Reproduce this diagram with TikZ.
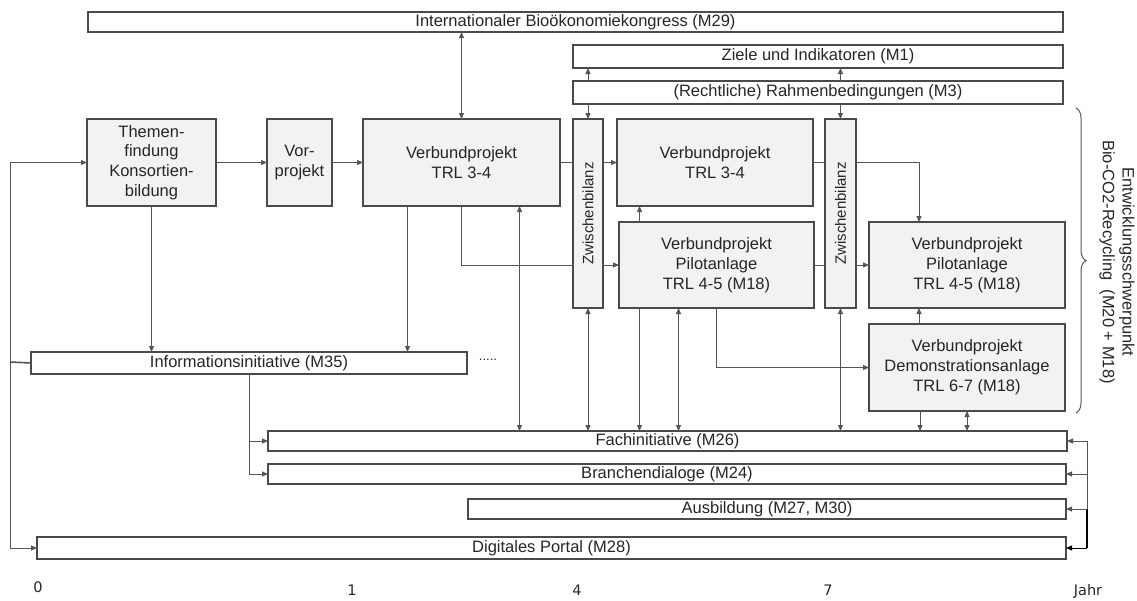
\documentclass[tikz,border=0pt]{standalone}
\usepackage{fontspec}
\setmainfont{Liberation Sans}
\newfontfamily\axisfont{DejaVu Sans}
\usetikzlibrary{arrows.meta,decorations.pathreplacing}
\definecolor{boxfill}{HTML}{F2F2F2}
\definecolor{boxline}{HTML}{4A4A4A}
\definecolor{conn}{HTML}{555555}
\definecolor{txt}{HTML}{262626}
\begin{document}
\begin{tikzpicture}[x=1pt,y=-1pt,
  every node/.style={inner sep=0pt, outer sep=0pt, text=txt, font=\fontsize{16.5}{19.8}\selectfont},
  gbox/.style={draw=boxline, fill=boxfill, line width=1.2pt, align=center},
  bar/.style={draw=boxline, fill=white, line width=1.2pt},
  conline/.style={draw=conn, line width=1pt},
  arr/.style={conline, -{Triangle[length=6pt,width=5pt]}},
  darr/.style={conline, {Triangle[length=6pt,width=5pt]}-{Triangle[length=6pt,width=5pt]}},
  axislbl/.style={font=\axisfont\fontsize{14.5}{17}\selectfont, anchor=base},
  zwlabel/.style={label={[rotate=90, font=\fontsize{15}{18}\selectfont]center:Zwischenbilanz}}
]
\useasboundingbox (0,0) rectangle (1137,600);

% bars
\node[bar, minimum width=975pt, minimum height=20pt] (m29) at (575.5,22) {Internationaler Bioökonomiekongress (M29)};
\node[bar, minimum width=490pt, minimum height=23pt] (m1) at (818,56.5) {Ziele und Indikatoren (M1)};
\node[bar, minimum width=490pt, minimum height=23pt] (m3) at (818,92.5) {(Rechtliche) Rahmenbedingungen (M3)};
\node[bar, minimum width=436pt, minimum height=22pt] (info) at (249,363) {Informationsinitiative (M35)};
\node[bar, minimum width=799pt, minimum height=20pt] (fach) at (667.5,441) {Fachinitiative (M26)};
\node[bar, minimum width=798pt, minimum height=20pt] (branch) at (667,474) {Branchendialoge (M24)};
\node[bar, minimum width=598pt, minimum height=20pt] (ausb) at (767,509) {Ausbildung (M27, M30)};
\node[bar, minimum width=1029pt, minimum height=22pt] (digi) at (551.5,548) {Digitales Portal (M28)};
\node[font=\fontsize{13}{15}\selectfont, anchor=base] (dots) at (488,360) {.....};

% grey boxes
\node[gbox, minimum width=129pt, minimum height=87pt] (themen) at (151.5,162.5) {Themen-\\findung\\Konsortien-\\bildung};
\node[gbox, minimum width=65pt, minimum height=87pt] (vor) at (299.5,162.5) {Vor-\\projekt};
\node[gbox, minimum width=197pt, minimum height=87pt] (v1) at (461.5,162.5) {Verbundprojekt\\TRL 3-4};
\node[gbox, minimum width=30pt, minimum height=189pt, zwlabel] (zw1) at (588,213.5) {};
\node[gbox, minimum width=196pt, minimum height=87pt] (v2) at (715,162.5) {Verbundprojekt\\TRL 3-4};
\node[gbox, minimum width=195pt, minimum height=86pt] (p1) at (716.5,265) {Verbundprojekt\\Pilotanlage\\TRL 4-5 (M18)};
\node[gbox, minimum width=31pt, minimum height=189pt, zwlabel] (zw2) at (840.5,213.5) {};
\node[gbox, minimum width=196pt, minimum height=86pt] (p2) at (967,265) {Verbundprojekt\\Pilotanlage\\TRL 4-5 (M18)};
\node[gbox, minimum width=196pt, minimum height=87pt] (demo) at (967,367.5) {Verbundprojekt\\Demonstrationsanlage\\TRL 6-7 (M18)};

% brace and label
\coordinate (bracetop) at (1076,108);
\coordinate (bracebot) at (1076,413);
\draw[draw=conn, line width=1pt, decorate, decoration={brace, amplitude=10pt}] (bracetop) -- (bracebot);
\node[rotate=-90, align=center] (focus) at (1117,262) {Entwicklungsschwerpunkt\\Bio-CO2-Recycling~~(M20 + M18)};

% top connections
\draw[darr] (m29.south -| v1.north) -- (v1.north);
\draw[arr] (zw1.north |- m3.north) -- (zw1.north |- m1.south);
\draw[arr] (zw2.north |- m3.north) -- (zw2.north |- m1.south);
\draw[arr] (zw1.north |- m3.south) -- (zw1.north);
\draw[arr] (zw2.north |- m3.south) -- (zw2.north);

% main flow
\draw[arr] (themen.east) -- (vor.west);
\draw[arr] (vor.east) -- (v1.west);
\draw[conline] (v1.east) -- (zw1.west |- v1.east);
\draw[arr] (zw1.east |- v2.west) -- (v2.west);
\draw[conline] (v1.south) |- (zw1.west |- p1.west);
\draw[arr] (zw1.east |- p1.west) -- (p1.west);
\draw[conline] (v2.east) -- (zw2.west |- v2.east);
\draw[arr] (zw2.east |- v2.east) -| ([xshift=-48pt]p2.north);
\draw[conline] (p1.east) -- (zw2.west |- p1.east);
\draw[arr] (zw2.east |- p2.west) -- (p2.west);
\draw[arr] ([xshift=-77pt]p1.north) -- ([xshift=-77pt]p1.north |- v2.south);
\draw[arr] ([xshift=-48pt]demo.north) -- ([xshift=-48pt]demo.north |- p2.south);
\draw[arr] (p1.south) |- (demo.west);

% down to information initiative
\draw[arr] (themen.south) -- (themen.south |- info.north);
\draw[arr] ([xshift=-54pt]v1.south) -- ([xshift=-54pt]v1.south |- info.north);

% down to Fachinitiative
\draw[darr] ([xshift=58pt]v1.south) -- ([xshift=58pt]v1.south |- fach.north);
\draw[darr] (zw1.south) -- (zw1.south |- fach.north);
\draw[arr] ([xshift=-77pt]p1.south) -- ([xshift=-77pt]p1.south |- fach.north);
\draw[darr] ([xshift=-38pt]p1.south) -- ([xshift=-38pt]p1.south |- fach.north);
\draw[darr] (zw2.south) -- (zw2.south |- fach.north);
\draw[arr] ([xshift=-47pt]demo.south) -- ([xshift=-47pt]demo.south |- fach.north);
\draw[darr] (demo.south) -- (demo.south |- fach.north);

% information initiative to bars
\draw[arr] (info.south) |- (fach.west);
\draw[arr] (info.south) |- (branch.west);

% left rail
\coordinate (lrail) at (10,362);
\draw[conline, line width=1.6pt] (info.west) -- (lrail);
\draw[arr] (lrail) |- (themen.west);
\draw[arr] (lrail) |- (digi.west);

% right rail
\coordinate (rtop) at (1087,441);
\coordinate (rbot) at (1087,548);
\draw[conline] (rtop) -- (rtop |- ausb.east);
\draw[conline, line width=1.5pt, draw=black] (rtop |- ausb.east) -- (rbot);
\draw[arr] (rtop) -- (fach.east);
\draw[arr] (rtop |- branch.east) -- (branch.east);
\draw[arr] (rtop |- ausb.east) -- (ausb.east);
\draw[arr, draw=black] (rbot) -- (digi.east);

% axis labels
\node[axislbl] (t0) at (38,592) {0};
\node[axislbl] (t1) at (352,595) {1};
\node[axislbl] (t4) at (577,595) {4};
\node[axislbl] (t7) at (828,595) {7};
\node[axislbl] (tj) at (1088,595) {Jahr};
\end{tikzpicture}
\end{document}
